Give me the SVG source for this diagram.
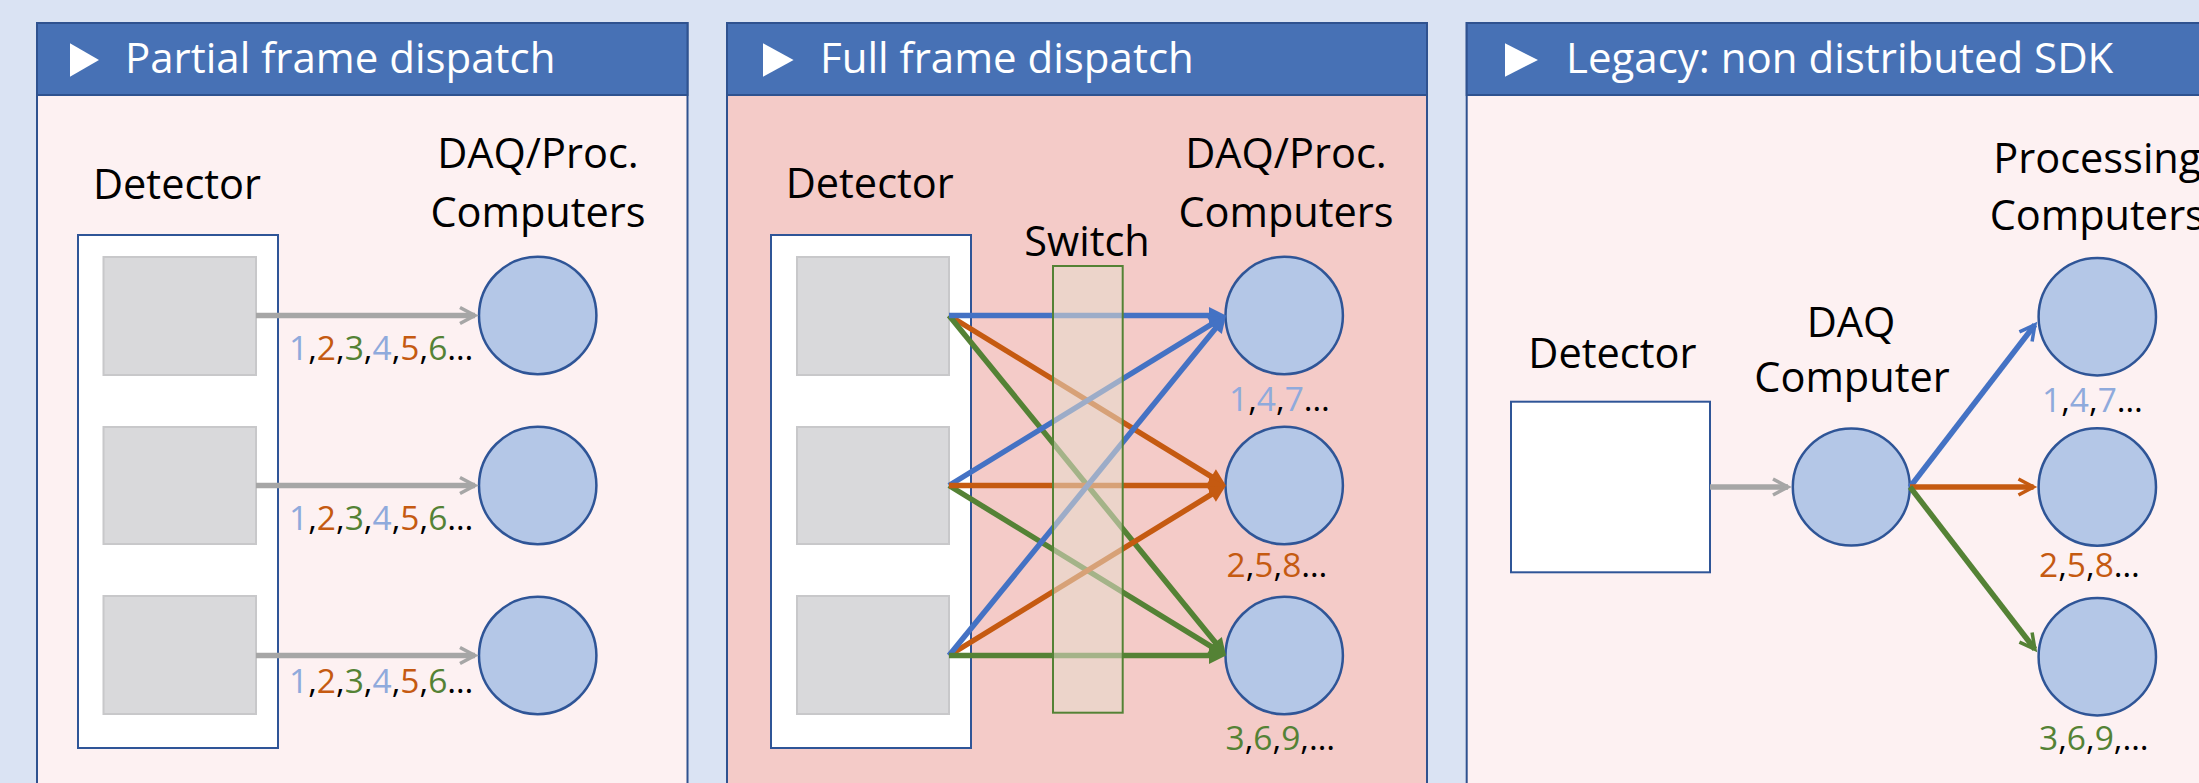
<svg xmlns="http://www.w3.org/2000/svg" width="2199" height="783" viewBox="0 0 2199 783">
  <style>
    .panel { stroke: #2F528F; stroke-width: 2; }
    .body-light { fill: #FDF1F2; }
    .body-pink { fill: #F4CBC8; }
    .header { fill: #4771B5; stroke: #2F528F; stroke-width: 2; }
    .tri { fill: #FFFFFF; }
    .title { font-family: "Open Sans", "Liberation Sans", sans-serif; font-size: 42px; fill: #FFFFFF; }
    .lbl { font-family: "Open Sans", "Liberation Sans", sans-serif; font-size: 41.5px; fill: #000000; text-anchor: middle; }
    .seq { font-family: "Open Sans", "Liberation Sans", sans-serif; font-size: 33.5px; fill: #000000; }
    .cb { fill: #8FAADC; }
    .co { fill: #C55A11; }
    .cg { fill: #548235; }
    .detbox { fill: #FFFFFF; stroke: #2F5597; stroke-width: 2; }
    .sq { fill: #D9D9DB; stroke: #C8C8CA; stroke-width: 2; }
    .comp { fill: #B4C7E7; stroke: #2F5597; stroke-width: 2.5; }
    .switch { fill: #E6DDCC; fill-opacity: 0.55; stroke: #548235; stroke-width: 2; }
    .ln { fill: none; stroke-width: 5.5; }
    .gray { stroke: #A6A6A6; stroke-width: 5.5; fill: none; }
    .blue { stroke: #4472C4; }
    .orange { stroke: #C55A11; }
    .green { stroke: #548235; }
  </style>
  <defs>
    <marker id="chev-gray" markerUnits="userSpaceOnUse" viewBox="-20 -12 26 24" markerWidth="26" markerHeight="24" refX="0" refY="0" orient="auto">
      <path d="M-15,-8 L0,0 L-15,8" fill="none" stroke="#A6A6A6" stroke-width="3.5"/>
    </marker>
    <marker id="chev-blue" markerUnits="userSpaceOnUse" viewBox="-20 -12 26 24" markerWidth="26" markerHeight="24" refX="0" refY="0" orient="auto">
      <path d="M-15,-8 L0,0 L-15,8" fill="none" stroke="#4472C4" stroke-width="3.5"/>
    </marker>
    <marker id="chev-orange" markerUnits="userSpaceOnUse" viewBox="-20 -12 26 24" markerWidth="26" markerHeight="24" refX="0" refY="0" orient="auto">
      <path d="M-15,-8 L0,0 L-15,8" fill="none" stroke="#C55A11" stroke-width="3.5"/>
    </marker>
    <marker id="chev-green" markerUnits="userSpaceOnUse" viewBox="-20 -12 26 24" markerWidth="26" markerHeight="24" refX="0" refY="0" orient="auto">
      <path d="M-15,-8 L0,0 L-15,8" fill="none" stroke="#548235" stroke-width="3.5"/>
    </marker>
    <marker id="tri-blue" markerUnits="userSpaceOnUse" viewBox="-10 -10 20 20" markerWidth="20" markerHeight="20" refX="0" refY="0" orient="auto">
      <path d="M9,0 L-8,-8.5 L-8,8.5 Z" fill="#4472C4"/>
    </marker>
    <marker id="tri-orange" markerUnits="userSpaceOnUse" viewBox="-10 -10 20 20" markerWidth="20" markerHeight="20" refX="0" refY="0" orient="auto">
      <path d="M9,0 L-8,-8.5 L-8,8.5 Z" fill="#C55A11"/>
    </marker>
    <marker id="tri-green" markerUnits="userSpaceOnUse" viewBox="-10 -10 20 20" markerWidth="20" markerHeight="20" refX="0" refY="0" orient="auto">
      <path d="M9,0 L-8,-8.5 L-8,8.5 Z" fill="#548235"/>
    </marker>
  </defs>

  <rect x="0" y="0" width="2199" height="783" fill="#DAE3F3"/>

  <!-- Panel frames -->
  <g id="panel-partial">
    <rect class="panel body-light" x="37" y="23" width="650.5" height="800"/>
    <rect class="header" x="37" y="23" width="650.5" height="72"/>
    <polygon class="tri" points="70,43.3 70,76.7 99,60"/>
    <text class="title" x="125" y="72.5">Partial frame dispatch</text>
  </g>
  <g id="panel-full">
    <rect class="panel body-pink" x="727" y="23" width="700" height="800"/>
    <rect class="header" x="727" y="23" width="700" height="72"/>
    <polygon class="tri" points="763,43.3 763,76.7 793.6,60"/>
    <text class="title" x="820" y="72.5">Full frame dispatch</text>
  </g>
  <g id="panel-legacy">
    <rect class="panel body-light" x="1466.7" y="23" width="800" height="800"/>
    <rect class="header" x="1466.7" y="23" width="800" height="72"/>
    <polygon class="tri" points="1505,43.3 1505,76.7 1538,60"/>
    <text class="title" x="1566" y="72.5">Legacy: non distributed SDK</text>
  </g>

  <!-- Panel 1 nodes -->
  <g id="p1-detector">
    <text class="lbl" x="177" y="199">Detector</text>
    <rect class="detbox" x="78" y="235" width="200" height="513"/>
    <rect class="sq" x="103.5" y="257" width="152.5" height="118"/>
    <rect class="sq" x="103.5" y="427" width="152.5" height="117"/>
    <rect class="sq" x="103.5" y="596" width="152.5" height="118"/>
  </g>
  <g id="p1-computers">
    <text class="lbl" x="538" y="168">DAQ/Proc.</text>
    <text class="lbl" x="538" y="227">Computers</text>
    <circle class="comp" cx="537.7" cy="315.5" r="58.7"/>
    <circle class="comp" cx="537.7" cy="485.5" r="58.7"/>
    <circle class="comp" cx="537.7" cy="655.5" r="58.7"/>
  </g>

  <!-- Panel 2 nodes -->
  <g id="p2-detector">
    <text class="lbl" x="869.7" y="198">Detector</text>
    <rect class="detbox" x="771" y="235" width="200" height="513"/>
    <rect class="sq" x="797" y="257" width="152" height="118"/>
    <rect class="sq" x="797" y="427" width="152" height="117"/>
    <rect class="sq" x="797" y="596" width="152" height="118"/>
  </g>
  <g id="p2-computers">
    <text class="lbl" x="1286" y="168">DAQ/Proc.</text>
    <text class="lbl" x="1286" y="227">Computers</text>
    <circle class="comp" cx="1284.2" cy="315.5" r="58.7"/>
    <circle class="comp" cx="1284.2" cy="485.5" r="58.7"/>
    <circle class="comp" cx="1284.2" cy="655.5" r="58.7"/>
  </g>

  <!-- Panel 3 nodes -->
  <g id="p3-detector">
    <text class="lbl" x="1612.4" y="368">Detector</text>
    <rect class="detbox" x="1511" y="401.7" width="199" height="170.6"/>
  </g>
  <g id="p3-daq">
    <text class="lbl" x="1851" y="337">DAQ</text>
    <text class="lbl" x="1852" y="392">Computer</text>
    <circle class="comp" cx="1851.3" cy="487" r="58.5"/>
  </g>
  <g id="p3-processing">
    <text class="lbl" x="2097.3" y="173">Processing</text>
    <text class="lbl" x="2097.3" y="230">Computers</text>
    <circle class="comp" cx="2097.3" cy="316.7" r="58.7"/>
    <circle class="comp" cx="2097.3" cy="487" r="58.7"/>
    <circle class="comp" cx="2097.3" cy="656.7" r="58.7"/>
  </g>

  <!-- Connectors -->
  <g id="connectors">
    <line class="gray" x1="256" y1="315.5" x2="475" y2="315.5" marker-end="url(#chev-gray)"/>
    <line class="gray" x1="256" y1="485.5" x2="475" y2="485.5" marker-end="url(#chev-gray)"/>
    <line class="gray" x1="256" y1="655.5" x2="475" y2="655.5" marker-end="url(#chev-gray)"/>

    <line class="ln orange" x1="949" y1="315.5" x2="1218.3" y2="480.8" marker-end="url(#tri-orange)"/>
    <line class="ln green" x1="949" y1="315.5" x2="1220.3" y2="648.5" marker-end="url(#tri-green)"/>
    <line class="ln blue" x1="949" y1="315.5" x2="1217" y2="315.5" marker-end="url(#tri-blue)"/>
    <line class="ln blue" x1="949" y1="485.5" x2="1218.3" y2="320.2" marker-end="url(#tri-blue)"/>
    <line class="ln green" x1="949" y1="485.5" x2="1218.3" y2="650.8" marker-end="url(#tri-green)"/>
    <line class="ln orange" x1="949" y1="485.5" x2="1217" y2="485.5" marker-end="url(#tri-orange)"/>
    <line class="ln orange" x1="949" y1="655.5" x2="1218.3" y2="490.2" marker-end="url(#tri-orange)"/>
    <line class="ln blue" x1="949" y1="655.5" x2="1220.3" y2="322.5" marker-end="url(#tri-blue)"/>
    <line class="ln green" x1="949" y1="655.5" x2="1217" y2="655.5" marker-end="url(#tri-green)"/>

    <line class="gray" x1="1710" y1="487" x2="1788" y2="487" marker-end="url(#chev-gray)"/>
    <line class="ln blue" stroke-width="5" x1="1910" y1="487" x2="2034.9" y2="324.8" marker-end="url(#chev-blue)"/>
    <line class="ln orange" stroke-width="5" x1="1910" y1="487" x2="2033.5" y2="487" marker-end="url(#chev-orange)"/>
    <line class="ln green" stroke-width="5" x1="1910" y1="487" x2="2034.9" y2="649.2" marker-end="url(#chev-green)"/>
  </g>

  <!-- Switch (drawn over the links) -->
  <g id="p2-switch">
    <text class="lbl" x="1087" y="256">Switch</text>
    <rect class="switch" x="1053" y="266" width="69.7" height="446.7"/>
  </g>

  <!-- Sequence labels -->
  <g id="p1-labels">
    <text class="seq" x="289" y="360"><tspan class="cb">1</tspan>,<tspan class="co">2</tspan>,<tspan class="cg">3</tspan>,<tspan class="cb">4</tspan>,<tspan class="co">5</tspan>,<tspan class="cg">6</tspan>…</text>
    <text class="seq" x="289" y="530"><tspan class="cb">1</tspan>,<tspan class="co">2</tspan>,<tspan class="cg">3</tspan>,<tspan class="cb">4</tspan>,<tspan class="co">5</tspan>,<tspan class="cg">6</tspan>…</text>
    <text class="seq" x="289" y="693"><tspan class="cb">1</tspan>,<tspan class="co">2</tspan>,<tspan class="cg">3</tspan>,<tspan class="cb">4</tspan>,<tspan class="co">5</tspan>,<tspan class="cg">6</tspan>…</text>
  </g>
  <g id="p2-labels">
    <text class="seq" x="1229" y="411"><tspan class="cb">1</tspan>,<tspan class="cb">4</tspan>,<tspan class="cb">7</tspan>…</text>
    <text class="seq" x="1226.5" y="577"><tspan class="co">2</tspan>,<tspan class="co">5</tspan>,<tspan class="co">8</tspan>…</text>
    <text class="seq" x="1225.5" y="750"><tspan class="cg">3</tspan>,<tspan class="cg">6</tspan>,<tspan class="cg">9</tspan>,…</text>
  </g>
  <g id="p3-labels">
    <text class="seq" x="2042" y="412"><tspan class="cb">1</tspan>,<tspan class="cb">4</tspan>,<tspan class="cb">7</tspan>…</text>
    <text class="seq" x="2039" y="577"><tspan class="co">2</tspan>,<tspan class="co">5</tspan>,<tspan class="co">8</tspan>…</text>
    <text class="seq" x="2039" y="750"><tspan class="cg">3</tspan>,<tspan class="cg">6</tspan>,<tspan class="cg">9</tspan>,…</text>
  </g>
</svg>
